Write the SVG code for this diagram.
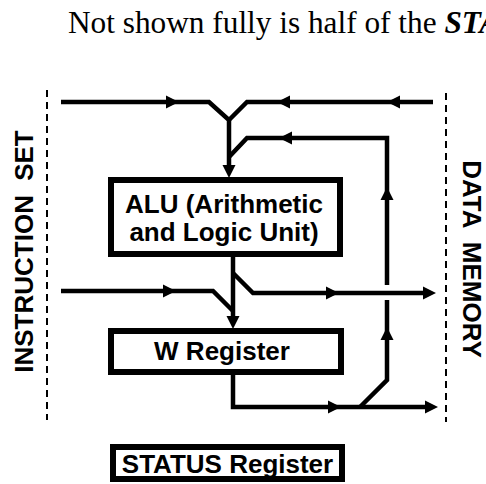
<svg xmlns="http://www.w3.org/2000/svg" xmlns:xlink="http://www.w3.org/1999/xlink" width="486" height="484" viewBox="0 0 486 484">
  <style>
    .box { fill: #ffffff; stroke: #000000; stroke-width: 6; }
    .wire { fill: none; stroke: #000000; stroke-width: 4.5; stroke-linejoin: miter; stroke-linecap: butt; }
    .dash { fill: none; stroke: #000000; stroke-width: 2; stroke-dasharray: 7 5; }
    .lbl { font-family: "Liberation Sans", Arial, sans-serif; font-weight: bold; font-size: 26px; fill: #000000; }
    .cap { font-family: "Liberation Serif", "Times New Roman", serif; font-size: 31.3px; fill: #000000; }
  </style>
  <defs>
    <path id="ah" d="M0,0 L-13,-6.5 L-13,6.5 Z" fill="#000000"/>
  </defs>
  <rect width="486" height="484" fill="#ffffff"/>

  <g id="caption">
    <text class="cap" x="68" y="33">Not shown fully is half of the <tspan font-weight="bold" font-style="italic">STA</tspan></text>
  </g>

  <g id="instruction-set">
    <line class="dash" x1="47" y1="90" x2="47" y2="420"/>
    <text class="lbl" transform="translate(33,251.5) rotate(-90)" text-anchor="middle" word-spacing="7">INSTRUCTION SET</text>
  </g>

  <g id="data-memory">
    <line class="dash" x1="446" y1="93" x2="446" y2="422"/>
    <text class="lbl" transform="translate(463,259) rotate(90)" text-anchor="middle" word-spacing="7">DATA MEMORY</text>
  </g>

  <g id="connectors">
    <path class="wire" d="M61,102 H209 L229,120 V170"/>
    <path class="wire" d="M433,102 H247 L229,120"/>
    <path class="wire" d="M360,407 L387,380 V300"/>
    <path class="wire" d="M387,285 V138 H247 L229,157"/>
    <path class="wire" d="M233,257 V321"/>
    <path class="wire" d="M233,273 L253,293 H428"/>
    <path class="wire" d="M61,291 H213 L233,311"/>
    <path class="wire" d="M233,375 V407 H430"/>
    <use xlink:href="#ah" transform="translate(179,102)"/>
    <use xlink:href="#ah" transform="translate(277,102) rotate(180)"/>
    <use xlink:href="#ah" transform="translate(387,102) rotate(180)"/>
    <use xlink:href="#ah" transform="translate(279,138) rotate(180)"/>
    <use xlink:href="#ah" transform="translate(229,178) rotate(90)"/>
    <use xlink:href="#ah" transform="translate(387,187) rotate(-90)"/>
    <use xlink:href="#ah" transform="translate(387,327) rotate(-90)"/>
    <use xlink:href="#ah" transform="translate(176,291)"/>
    <use xlink:href="#ah" transform="translate(339,293)"/>
    <use xlink:href="#ah" transform="translate(436,293)"/>
    <use xlink:href="#ah" transform="translate(233,329) rotate(90)"/>
    <use xlink:href="#ah" transform="translate(341,407)"/>
    <use xlink:href="#ah" transform="translate(438,407)"/>
  </g>

  <g id="alu">
    <rect class="box" x="111" y="180" width="229" height="74"/>
    <text class="lbl" x="224" y="213" text-anchor="middle">ALU (Arithmetic</text>
    <text class="lbl" x="224" y="241" text-anchor="middle">and Logic Unit)</text>
  </g>

  <g id="w-register">
    <rect class="box" x="111" y="331" width="230" height="41"/>
    <text class="lbl" x="222" y="360" text-anchor="middle">W Register</text>
  </g>

  <g id="status-register">
    <rect class="box" x="113" y="447" width="229" height="32"/>
    <text class="lbl" x="227.5" y="473" text-anchor="middle">STATUS Register</text>
  </g>
</svg>
